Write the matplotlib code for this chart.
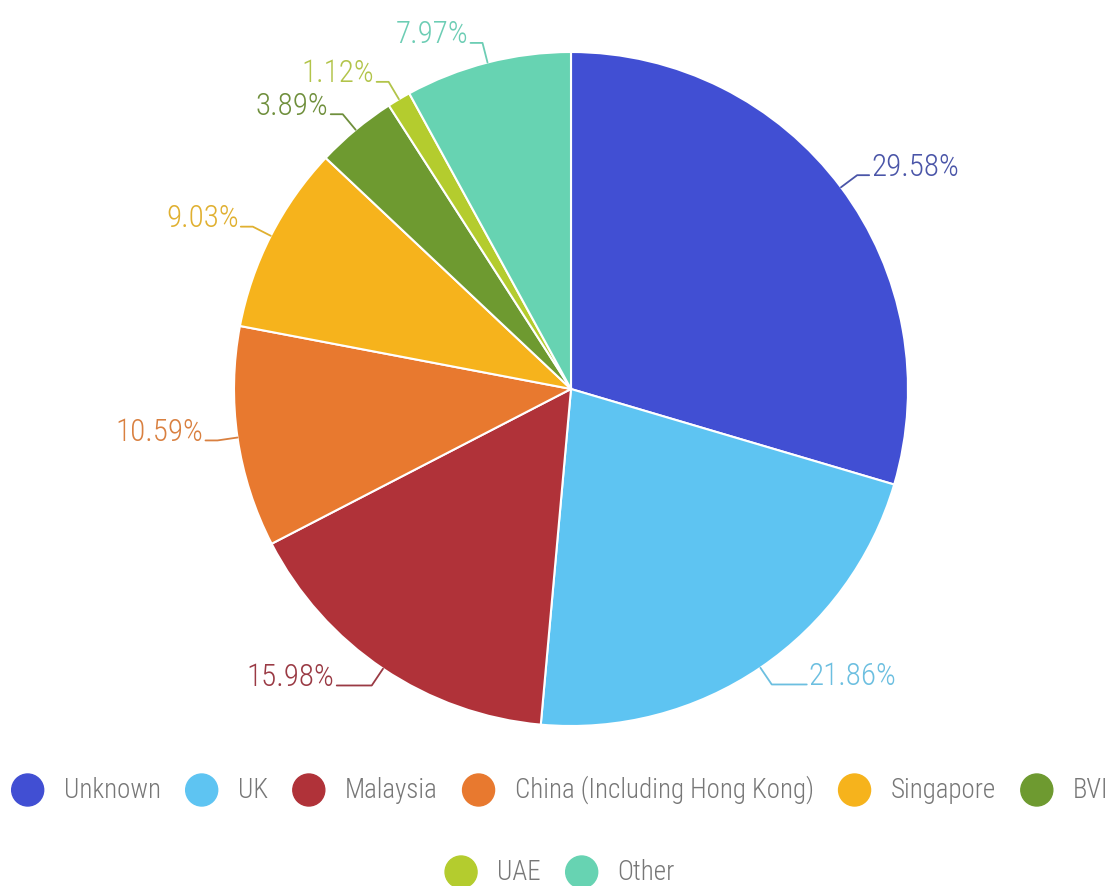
import numpy as np
import matplotlib
matplotlib.use("Agg")
import matplotlib.pyplot as plt
from matplotlib.patches import Circle
from matplotlib import font_manager as fm

categories = ["Unknown", "UK", "Malaysia", "China (Including Hong Kong)",
              "Singapore", "BVI", "UAE", "Other"]
values = [29.58, 21.86, 15.98, 10.59, 9.03, 3.89, 1.12, 7.97]
colors = ["#414fd3", "#5ec4f2", "#b03239", "#e8792f", "#f6b31c",
          "#6e9a30", "#b4cc2e", "#67d3b2"]
text_colors = ["#4a55a8", "#6cbfe0", "#9a3a44", "#d98040", "#e0b030",
               "#6f8f3c", "#b2c44a", "#6ccdb4"]

# pick a condensed font if available
fonts = fm.fontManager.ttflist
names = {f.name for f in fonts}
fp = None
for cand in ["Ubuntu Condensed", "Roboto Condensed", "Liberation Sans Narrow",
             "Open Sans Condensed", "DejaVu Sans Condensed"]:
    if cand in names:
        fp = dict(family=cand)
        break
if fp is None:
    cond = [f for f in fonts if f.stretch in ('condensed', 'semi-condensed', 'extra-condensed')]
    if cond:
        fp = dict(family=cond[0].name, stretch=cond[0].stretch)
    else:
        fp = dict(family='Roboto')
fp['weight'] = 'light'

W, H = 1110, 886
fig = plt.figure(figsize=(W / 100, H / 100), dpi=100)
ax = fig.add_axes([0, 0, 1, 1])

cx, cy, R = 571, H - 389, 337
ax.pie(values, colors=colors, startangle=90, counterclock=False,
       center=(cx, cy), radius=R, normalize=True,
       wedgeprops=dict(edgecolor='white', linewidth=1.5))
ax.set_xlim(0, W)
ax.set_ylim(0, H)
ax.set_aspect('equal')
ax.axis('off')

fig.canvas.draw()
renderer = fig.canvas.get_renderer()

def text_w(s, size):
    t = ax.text(0, 0, s, fontsize=size, **fp)
    w = t.get_window_extent(renderer).width
    t.remove()
    return w

# label font sized so "29.58%" is ~88 px wide
fs_lab = 21 * 88 / text_w("29.58%", 21)

total = sum(values)
cum = 0
for v, tc in zip(values, text_colors):
    mid = 90 - 360 * (cum + v / 2) / total
    cum += v
    a = np.deg2rad(mid)
    x0, y0 = cx + R * np.cos(a), cy + R * np.sin(a)
    bottom = np.sin(a) < -0.5
    rr = 1.06
    x1, y1 = cx + R * rr * np.cos(a), cy + R * rr * np.sin(a)
    side = 1 if np.cos(a) >= 0 else -1
    x2 = x1 + side * (35 if bottom else 12)
    ax.plot([x0, x1, x2], [y0, y1, y1], color=tc, lw=1.3, solid_capstyle='round')
    ax.text(x2 + side * 2, y1 + 8, f"{v:.2f}%", color=tc, fontsize=fs_lab,
            ha='left' if side > 0 else 'right', va='center', **fp)

# legend
rows = [categories[:6], categories[6:]]
row_y = [H - 790, H - 872]
circ_d = 32
gap1 = 20
gap2 = 25
# size legend text so that the first row spans ~1095 px
w21 = sum(text_w(n, 21) for n in rows[0])
fixed = len(rows[0]) * (circ_d + gap1) + gap2 * (len(rows[0]) - 1)
fs_leg = 21 * (1095 - fixed) / w21

idx = 0
for row, ry in zip(rows, row_y):
    widths = [text_w(n, fs_leg) for n in row]
    total_w = sum(circ_d + gap1 + w for w in widths) + gap2 * (len(row) - 1)
    x = 560 - total_w / 2
    for name, w in zip(row, widths):
        ax.add_patch(Circle((x + circ_d / 2, ry), circ_d / 2, color=colors[idx],
                            clip_on=False))
        ax.text(x + circ_d + gap1, ry, name, fontsize=fs_leg, color='#777777',
                ha='left', va='center', clip_on=False, **fp)
        x += circ_d + gap1 + w + gap2
        idx += 1

fig.savefig("out.png", dpi=100)
